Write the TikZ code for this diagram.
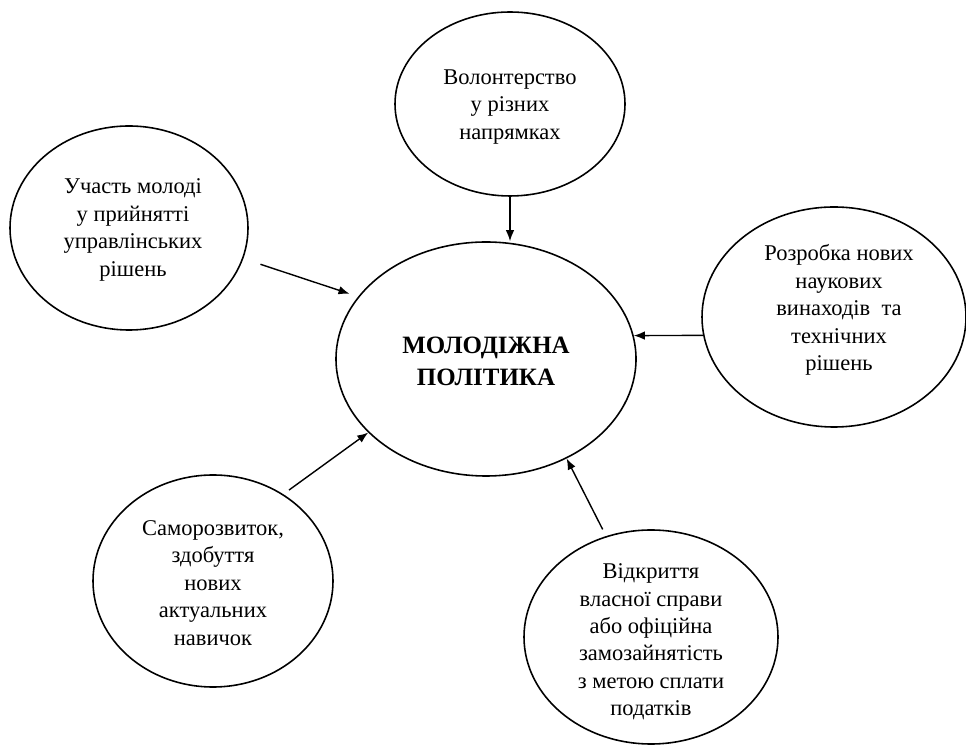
\documentclass[tikz,border=0pt]{standalone}
\usepackage{fontspec}
\setmainfont{Liberation Serif}
\usepackage{tikz}
\usetikzlibrary{arrows.meta,shapes.geometric}

\begin{document}
\begin{tikzpicture}[>={Latex[length=2.2mm,width=1.7mm]},
  bubble/.style={draw,ellipse,line width=0.9pt,inner sep=0pt},
  txt/.style={align=center,inner sep=0pt,font=\fontsize{12.8}{15.6}\selectfont},
  flecha/.style={->,line width=0.8pt}]
  \useasboundingbox (0,0) rectangle (19.32,14.9);
  \node[bubble,minimum width=6cm,minimum height=4.68cm] (pol) at (9.72,7.72) {};
  \node[bubble,minimum width=4.6cm,minimum height=3.68cm] (vol) at (10.2,12.82) {};
  \node[bubble,minimum width=4.76cm,minimum height=4.08cm] (uch) at (2.58,10.34) {};
  \node[bubble,minimum width=5.28cm,minimum height=4.4cm] (rozr) at (16.68,8.56) {};
  \node[bubble,minimum width=4.8cm,minimum height=4.24cm] (samo) at (4.26,3.28) {};
  \node[bubble,minimum width=5.08cm,minimum height=4.28cm] (vidk) at (13.02,2.16) {};
  \node[txt,font=\fontsize{14.2}{18.2}\selectfont\bfseries] (pol-t) at (9.72,7.68)
    {МОЛОДІЖНА\\ПОЛІТИКА};
  \node[txt] (vol-t) at (10.2,12.76) {Волонтерство\\у різних\\напрямках};
  \node[txt] (uch-t) at (2.66,10.3) {Участь молоді\\у прийнятті\\управлінських\\рішень};
  \node[txt] (rozr-t) at (16.78,8.7) {Розробка нових\\наукових\\винаходів\ \ та\\технічних\\рішень};
  \node[txt] (samo-t) at (4.26,3.24) {Саморозвиток,\\здобуття\\нових\\актуальних\\навичок};
  \node[txt] (vidk-t) at (13.02,2.06) {Відкриття\\власної справи\\або офіційна\\замозайнятість\\з метою сплати\\податків};
  \draw[flecha] (vol.south) -- (vol.south |- pol.north);
  \draw[flecha,shorten <=0.36cm,shorten >=0.18cm] (uch.-15) -- (pol.154);
  \draw[flecha] (rozr.188) -- (pol.9);
  \draw[flecha,shorten <=0.14cm] (samo.51.5) -- (pol.212);
  \draw[flecha,shorten <=0.15cm] (vidk.114.6) -- (pol.-51);
\end{tikzpicture}
\end{document}
